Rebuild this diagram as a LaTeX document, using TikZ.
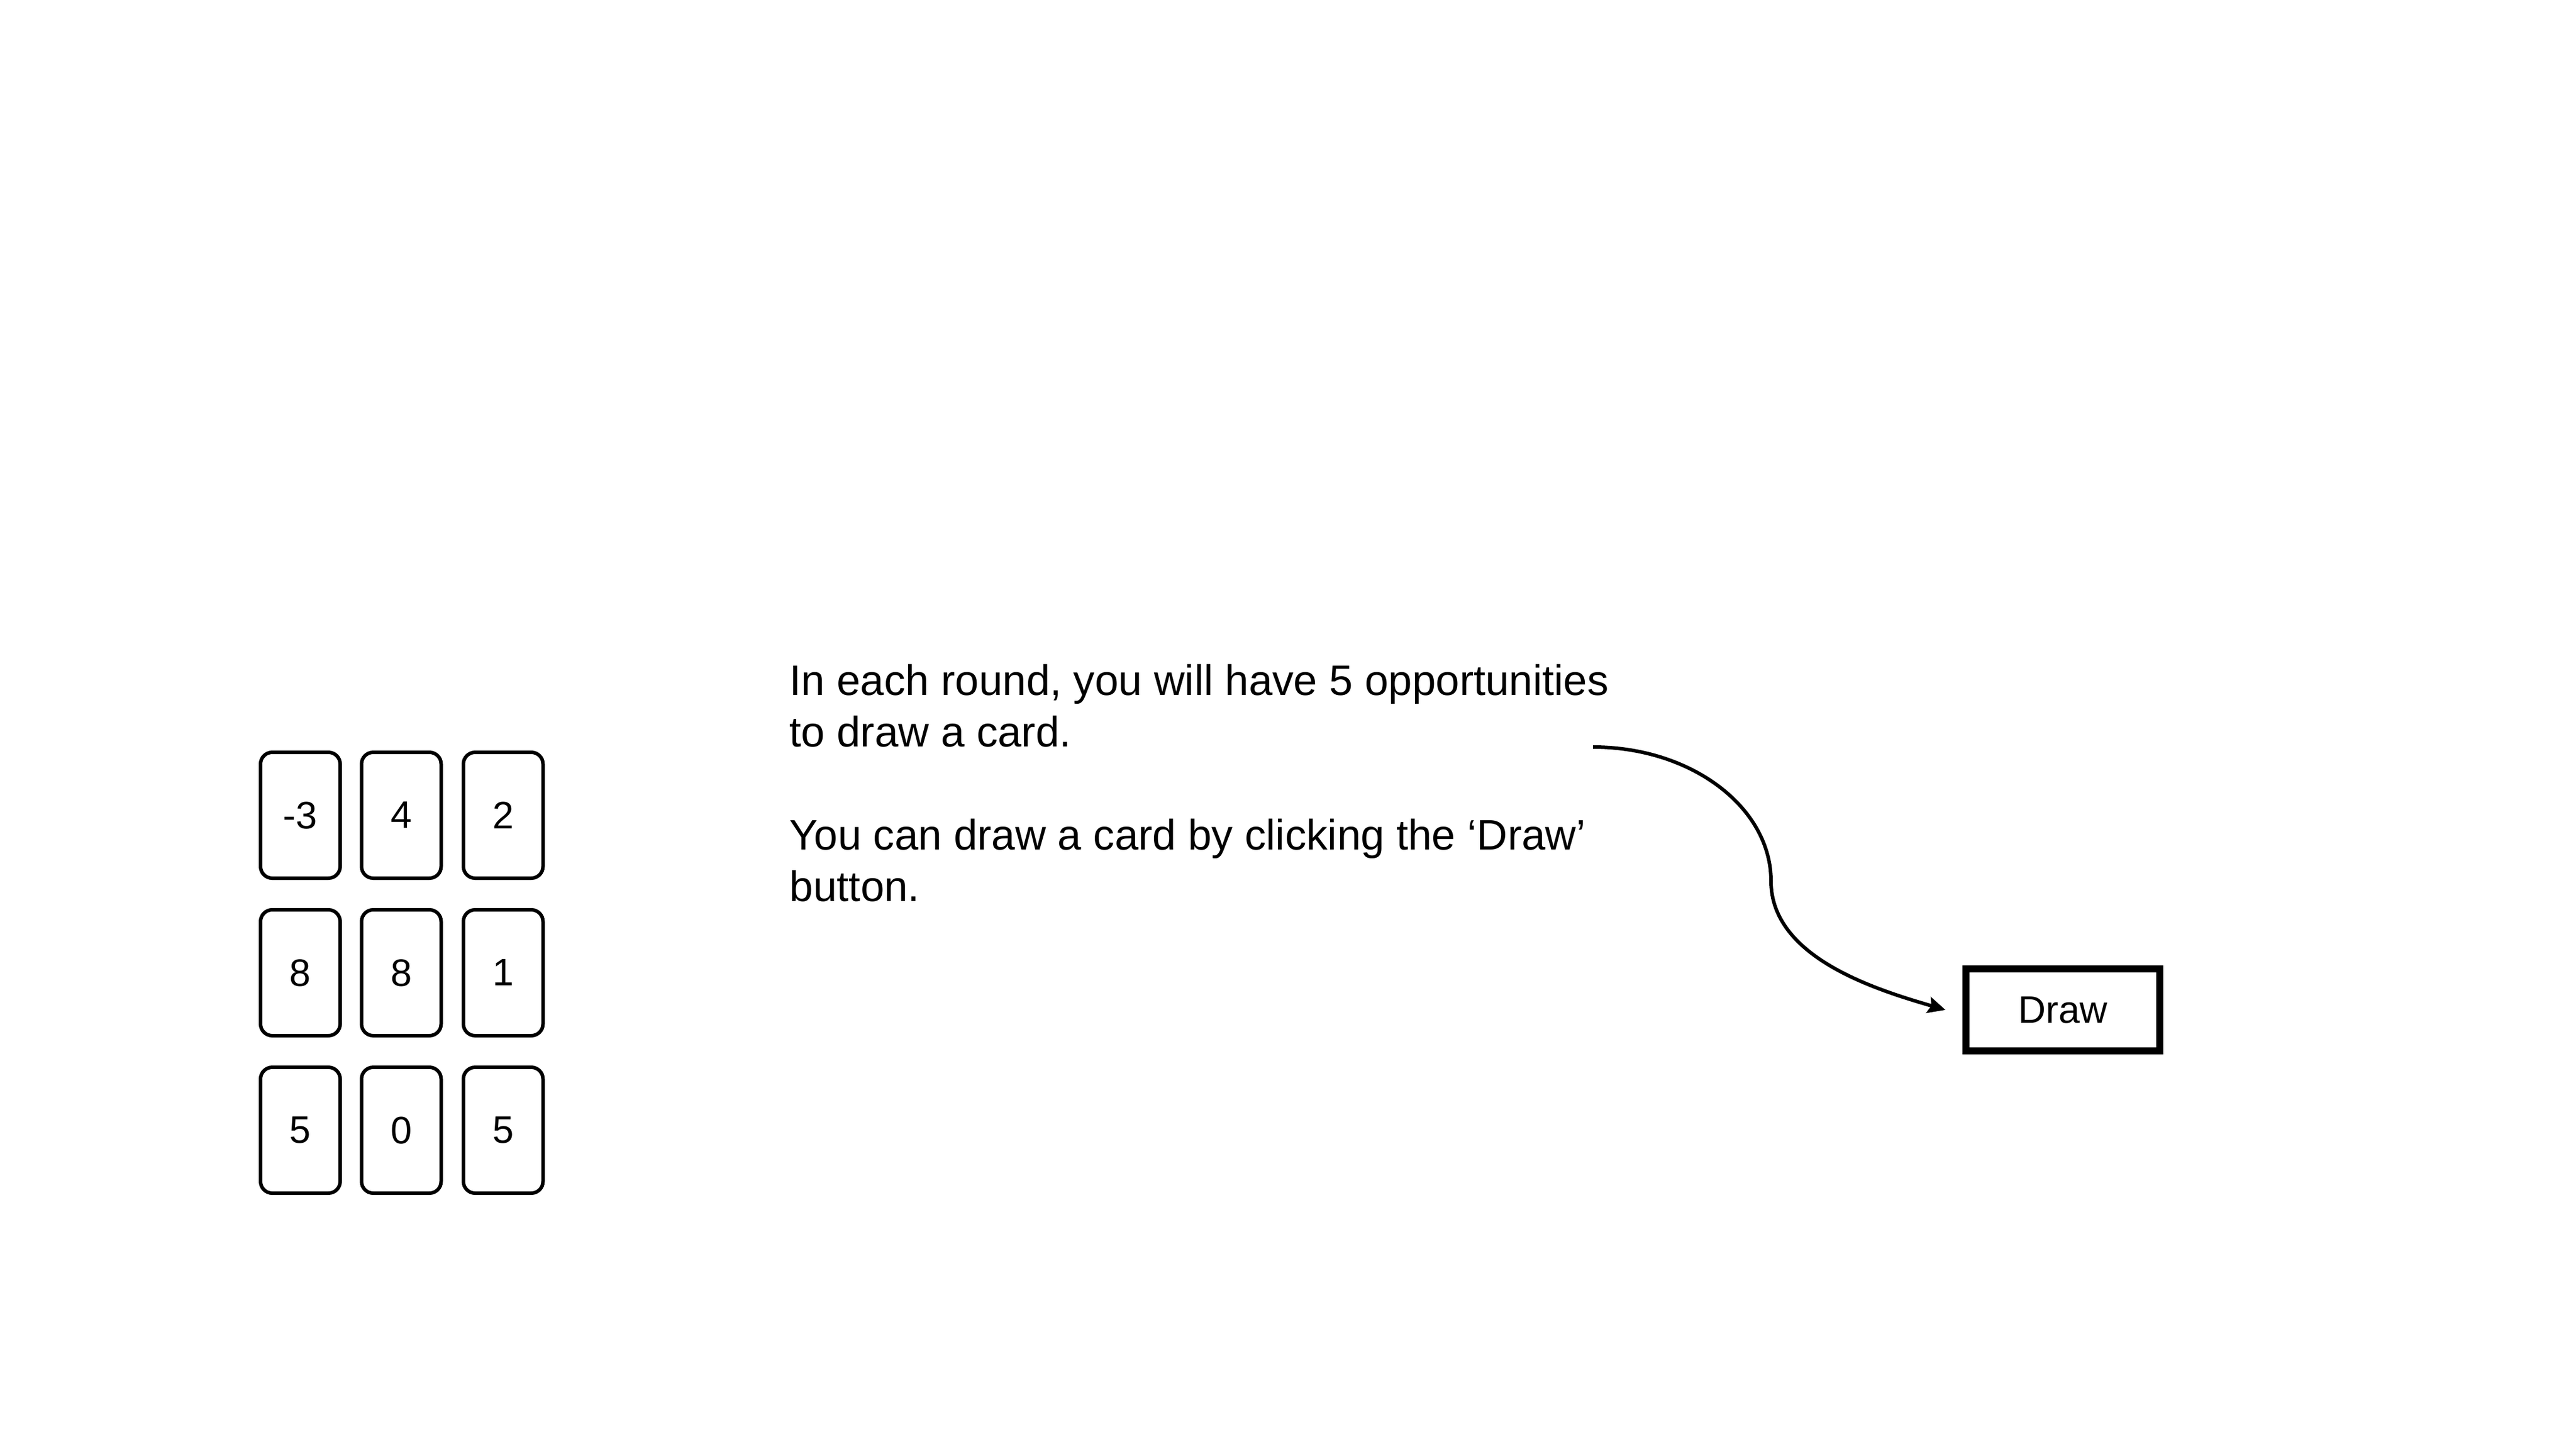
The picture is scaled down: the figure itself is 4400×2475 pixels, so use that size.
\documentclass[tikz,border=0pt]{standalone}
\usepackage{fontspec}
\setmainfont{Liberation Sans}
\usetikzlibrary{arrows.meta}
\tikzset{
  card/.style={draw=black, line width=0.6mm, rounded corners=2mm, fill=white,
    minimum width=13.6mm, minimum height=21.5mm, inner sep=0pt,
    font=\fontsize{18.6}{22}\selectfont},
  button/.style={draw=black, line width=1.2mm, fill=white,
    minimum width=33.1mm, minimum height=14mm, inner sep=0pt,
    font=\fontsize{18.6}{22}\selectfont},
  textblk/.style={inner sep=0pt, align=left, font=\fontsize{20.7}{25.04}\selectfont},
  conn/.style={draw=black, line width=0.6mm, -{Stealth[length=3mm, width=2.8mm, inset=0.5mm]}}
}
\begin{document}
\begin{tikzpicture}[x=0.1mm, y=-0.1mm]
\fill[white] (0,0) rectangle (4400,2475);
\useasboundingbox (0,0) rectangle (4400,2475);
% cards
\node[card] (c11) at (513,1392.5) {-3};
\node[card] (c12) at (685.5,1392.5) {4};
\node[card] (c13) at (859.5,1392.5) {2};
\node[card] (c21) at (513,1661.5) {8};
\node[card] (c22) at (685.5,1661.5) {8};
\node[card] (c23) at (859.5,1661.5) {1};
\node[card] (c31) at (513,1930.5) {5};
\node[card] (c32) at (685.5,1930.5) {0};
\node[card] (c33) at (859.5,1930.5) {5};
% text (base anchor = baseline of the last line)
\node[textblk, anchor=base west] (txt) at (1348,1539)
  {In each round, you will have 5 opportunities\\to draw a card.\\[25pt]You can draw a card by clicking the ‘Draw’\\button.};
% button
\node[button] (btn) at (3523.5,1725) {Draw};
% connector
\coordinate (cstart) at (2721,1276);
\coordinate (cmid) at (3025,1505);
\draw[conn] (cstart) .. controls (2889,1276) and (3025,1379) .. (cmid)
  .. controls (3025,1635) and (3203,1690) .. ([xshift=-2.9mm]btn.west);
\end{tikzpicture}
\end{document}
